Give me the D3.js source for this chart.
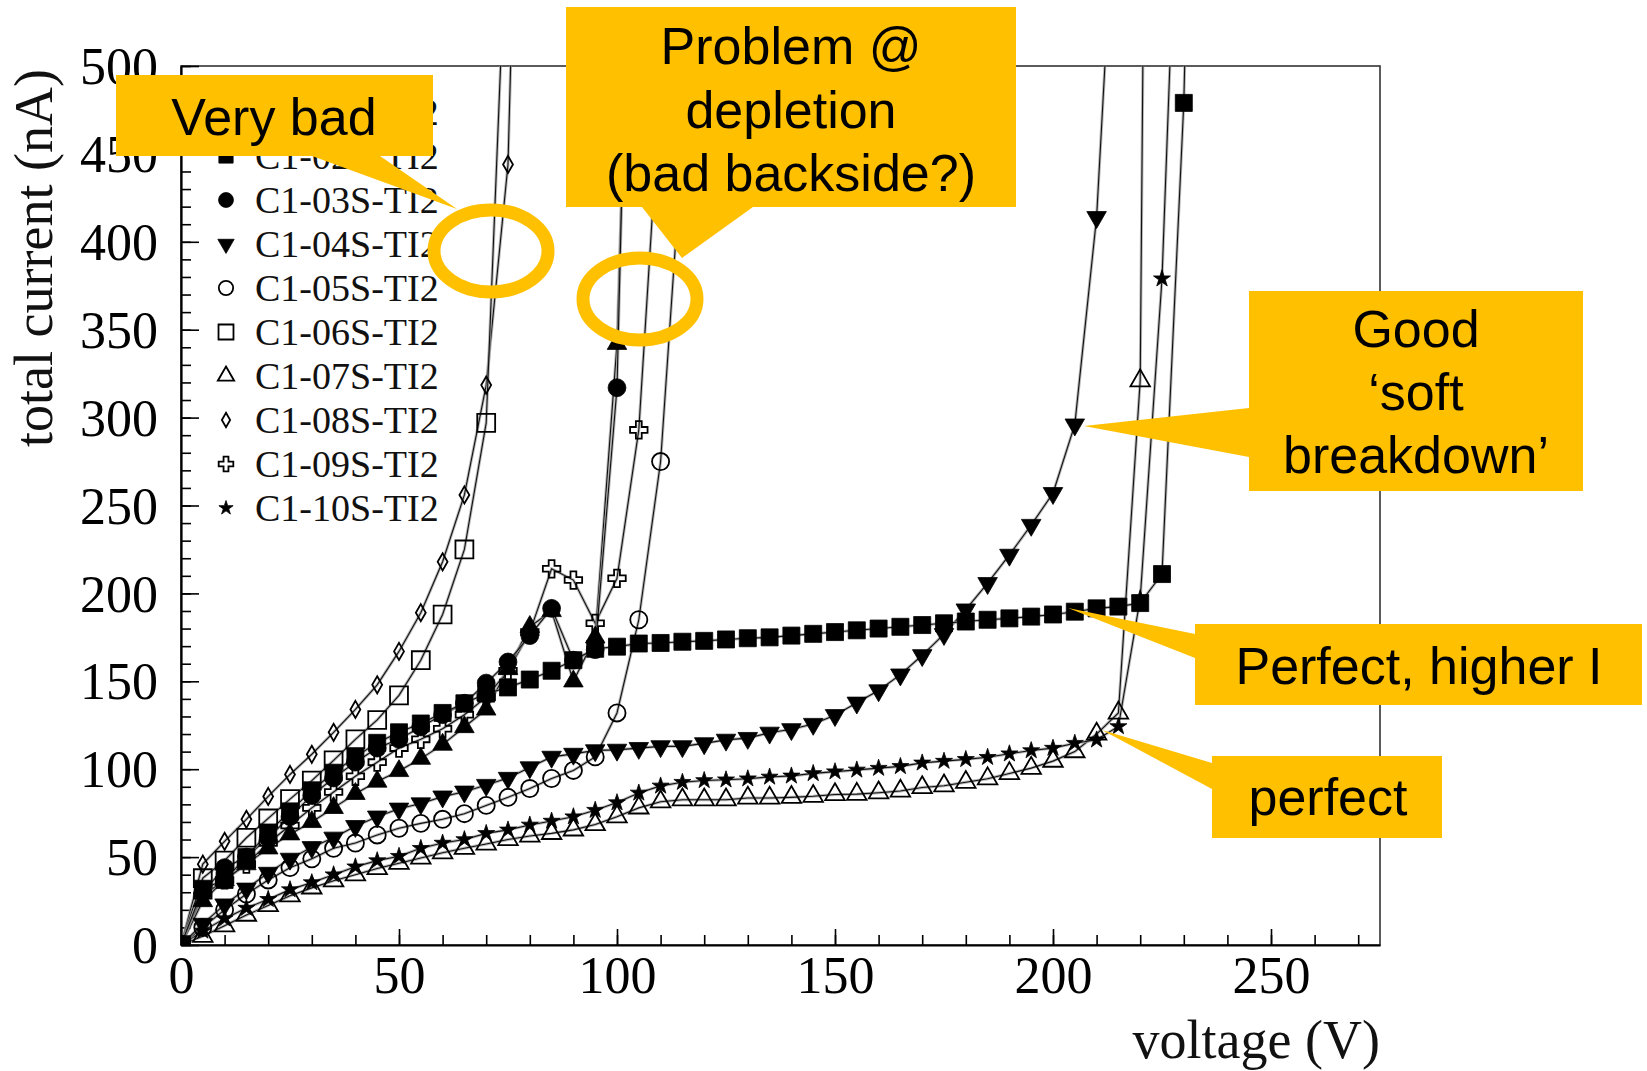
<!DOCTYPE html>
<html>
<head>
<meta charset="utf-8">
<script src="https://cdn.jsdelivr.net/npm/d3@7"></script>
<style>
body { margin: 0; background: #fff; }
svg { display: block; }
</style>
</head>
<body>
<script>
// bias voltage steps (V)
var voltage = [0,5,10,15,20,25,30,35,40,45,50,55,60,65,70,75,80,85,90,95,100,105,110,115,120,
  125,130,135,140,145,150,155,160,165,170,175,180,185,190,195,200,205,210,215,220,225,230,235];

var names = ["C1-01S-TI2","C1-02S-TI2","C1-03S-TI2","C1-04S-TI2","C1-05S-TI2",
  "C1-06S-TI2","C1-07S-TI2","C1-08S-TI2","C1-09S-TI2","C1-10S-TI2"];

// total current (nA), one entry per voltage step
var c01 = [0,25,37,46,55,63,70,78,86,93,99,106,114,124,134,157,181,190,150,175,342,750];
var c02 = [0,32,37,50,64,76,88,98,107,115,121,126,132,137.5,143,146.5,151,156,162,168.5,169.7,171.5,
  171.8,172.5,173,173.8,174.5,175,176,177,178,179,180,181,182,183,184,185,185.8,186.8,188,189.6,
  191.5,192.5,194.5,211,479,1000];
var c03 = [0,30,44,50,61,73,85,95,104,112,117,124,131,137.5,149,161,176,191.5,162,168,317,820];
var c04 = [0,12,23,32,41,49,55.6,61,67.6,73,77.5,80.5,84.4,87.2,91,95,101,107,108.7,110.7,111,112,113,
  113,114.7,116.7,117.7,120.7,122.7,125.7,130.7,137.8,144.8,153.8,164.8,176.8,190.8,205.8,221.9,
  238.9,257,296,414,640];
var c05 = [0,10,20,29,37,44,49,55,58,62.6,66.4,69.2,71.5,74.7,79.4,84,89,94.7,99.3,107,132,185,275,456,1000];
var c06 = [0,38,48,61,72,83,93.5,105,117,128,142,162,188,225,297,605];
var c07 = [0,5,11,17,22.5,28,32.5,36.5,40,43.5,46.5,49.5,52.5,55,57.5,60,62,63.5,65.5,68.5,73,78,81.5,
  82.6,82.6,82.6,83.6,83.6,84,84.6,85.6,85.8,86.6,87.6,89.6,90.6,92.6,94.6,97.6,100.6,104.6,110,120,
  132,321,1800];
var c08 = [0,46,59,71.5,84.5,97,108.5,121,134,148,167,189,218,256,318.5,444,910];
var c09 = [0,28,37,46,58,68,78,87,96,104,112,117,123,131,141,156,178,214,207.6,183,208.6,293,490,1200];
var c10 = [0,8,15,21,26,31.5,35.5,40,44.5,48,50.5,55,58,60,63.5,65.5,68.3,70.5,73,76.7,81,86.5,90.5,
  92.6,93.6,94,94.6,95.6,96.2,97.6,98.6,99.6,100.6,101.6,103.6,104.6,105.6,106.8,108.8,110.6,112,
  114.8,116.7,124.3,197,379,715];

var currents = [c01, c02, c03, c04, c05, c06, c07, c08, c09, c10];

var xTicks = [0,50,100,150,200,250];
var yTicks = [0,50,100,150,200,250,300,350,400,450,500];

// marker look per series
var markers = [
  { sym: d3.symbolTriangle, size: 165, fill: true,  rot: 0 },
  { sym: d3.symbolSquare,   size: 290, fill: true,  rot: 0 },
  { sym: d3.symbolCircle,   size: 250, fill: true,  rot: 0 },
  { sym: d3.symbolTriangle, size: 165, fill: true,  rot: 180 },
  { sym: d3.symbolCircle,   size: 230, fill: false, rot: 0 },
  { sym: d3.symbolSquare,   size: 320, fill: false, rot: 0 },
  { sym: d3.symbolTriangle, size: 165, fill: false, rot: 0 },
  { sym: d3.symbolDiamond,  size: 85,  fill: false, rot: 0 },
  { sym: d3.symbolCross,    size: 170, fill: false, rot: 0 },
  { sym: d3.symbolStar,     size: 90,  fill: true,  rot: 0 }
];
var drawOrder = [6, 9, 4, 3, 7, 5, 8, 0, 2, 1];

var callouts = [
  { box: [116, 75, 433, 156], tail: [[312,156],[380,156],[457,209]],
    lines: ["Very bad"], cx: 274, y0: 135, dy: 0 },
  { box: [566, 7, 1016, 207], tail: [[642,207],[753,207],[682,258]],
    lines: ["Problem @", "depletion", "(bad backside?)"], cx: 791, y0: 64, dy: 63.5 },
  { box: [1249, 291, 1583, 491], tail: [[1249,408],[1249,457],[1084,426]],
    lines: ["Good", "\u2018soft", "breakdown\u2019"], cx: 1416, y0: 347, dy: 63 },
  { box: [1195, 624, 1642, 705], tail: [[1195,634],[1195,658],[1068,608]],
    lines: ["Perfect, higher I"], cx: 1419, y0: 684, dy: 0 },
  { box: [1212, 756, 1442, 838], tail: [[1212,763],[1212,789],[1102,730]],
    lines: ["perfect"], cx: 1328, y0: 815, dy: 0 }
];
var rings = [[491, 251], [640, 299]];

var orange = "#FFC000";
var serif = "'Liberation Serif', 'Times New Roman', serif";
var sans = "'Liberation Sans', Arial, Helvetica, sans-serif";

var svg = d3.select("body").append("svg")
  .attr("width", 1647)
  .attr("height", 1071);

var x = d3.scaleLinear().domain([0, 275]).range([181, 1380]);
var y = d3.scaleLinear().domain([0, 500]).range([945, 66]);

svg.append("clipPath").attr("id", "plot-clip")
  .append("rect")
  .attr("x", x(0)).attr("y", y(500))
  .attr("width", x(275) - x(0)).attr("height", y(0) - y(500));

// frame
svg.append("rect")
  .attr("x", x(0)).attr("y", y(500))
  .attr("width", x(275) - x(0)).attr("height", y(0) - y(500))
  .attr("fill", "none").attr("stroke", "#333").attr("stroke-width", 1.6);

// minor ticks
svg.append("g")
  .attr("transform", "translate(0," + y(0) + ")")
  .call(d3.axisBottom(x).tickValues(d3.range(0, 275, 10)).tickSizeInner(-10).tickSizeOuter(0).tickFormat(""))
  .call(function(g) { g.select(".domain").remove(); });
svg.append("g")
  .attr("transform", "translate(" + x(0) + ",0)")
  .call(d3.axisLeft(y).tickValues(d3.range(0, 501, 10)).tickSizeInner(-10).tickSizeOuter(0).tickFormat(""))
  .call(function(g) { g.select(".domain").remove(); });

// major ticks with labels
var xAxis = svg.append("g")
  .attr("transform", "translate(0," + y(0) + ")")
  .call(d3.axisBottom(x).tickValues(xTicks).tickSizeInner(-16).tickSizeOuter(0).tickPadding(11));
var yAxis = svg.append("g")
  .attr("transform", "translate(" + x(0) + ",0)")
  .call(d3.axisLeft(y).tickValues(yTicks).tickSizeInner(-18).tickSizeOuter(0).tickPadding(23));

[xAxis, yAxis].forEach(function(g) {
  g.select(".domain").attr("stroke", "#000").attr("stroke-width", 2.2);
  g.selectAll(".tick text")
    .attr("font-family", serif)
    .attr("font-size", 52)
    .attr("fill", "#000");
});
yAxis.selectAll(".tick text").attr("dy", "0.34em");
svg.selectAll("g.tick line").attr("stroke", "#000").attr("stroke-width", 1.6);

// axis titles
svg.append("text")
  .attr("transform", "translate(52,258) rotate(-90)")
  .attr("text-anchor", "middle")
  .attr("font-family", serif)
  .attr("font-size", 54)
  .attr("fill", "#111")
  .text("total current (nA)");

svg.append("text")
  .attr("x", 1380).attr("y", 1058)
  .attr("text-anchor", "end")
  .attr("font-family", serif)
  .attr("font-size", 54)
  .attr("fill", "#111")
  .text("voltage (V)");

function pointsOf(i) {
  return currents[i].map(function(v, k) { return [voltage[k], v]; });
}

var line = d3.line()
  .x(function(d) { return x(d[0]); })
  .y(function(d) { return y(d[1]); });

var plot = svg.append("g").attr("clip-path", "url(#plot-clip)");

// curves
drawOrder.forEach(function(i) {
  var pts = pointsOf(i);
  plot.append("path").datum(pts)
    .attr("d", line).attr("fill", "none")
    .attr("stroke", "#9a9a9a").attr("stroke-width", 3).attr("stroke-opacity", 0.7);
  plot.append("path").datum(pts)
    .attr("d", line).attr("fill", "none")
    .attr("stroke", "#111").attr("stroke-width", 1.1);
});

function drawMarker(g, m, scale) {
  return g.append("path")
    .attr("d", d3.symbol().type(m.sym).size(m.size * scale)())
    .attr("fill", m.fill ? "#000" : "none")
    .attr("stroke", "#000")
    .attr("stroke-width", m.fill ? 0.8 : 1.8);
}

// markers
drawOrder.forEach(function(i) {
  var m = markers[i];
  pointsOf(i).filter(function(d) { return d[1] <= 500; }).forEach(function(d) {
    drawMarker(plot, m, 1)
      .attr("transform", "translate(" + x(d[0]) + "," + y(d[1]) + ") rotate(" + m.rot + ")");
  });
});

// legend
var legend = svg.append("g");
names.forEach(function(name, i) {
  var ly = 112 + 44 * i;
  drawMarker(legend, markers[i], 0.7)
    .attr("transform", "translate(226," + ly + ") rotate(" + markers[i].rot + ")");
  legend.append("text")
    .attr("x", 255).attr("y", ly + 13)
    .attr("font-family", serif)
    .attr("font-size", 38)
    .attr("fill", "#111")
    .text(name);
});

// yellow callouts
var notes = svg.append("g");
callouts.forEach(function(c) {
  notes.append("rect")
    .attr("x", c.box[0]).attr("y", c.box[1])
    .attr("width", c.box[2] - c.box[0]).attr("height", c.box[3] - c.box[1])
    .attr("fill", orange);
  notes.append("polygon")
    .attr("points", c.tail.map(function(p) { return p.join(","); }).join(" "))
    .attr("fill", orange);
  c.lines.forEach(function(t, k) {
    notes.append("text")
      .attr("x", c.cx).attr("y", c.y0 + k * c.dy)
      .attr("text-anchor", "middle")
      .attr("font-family", sans)
      .attr("font-size", 52)
      .attr("fill", "#000")
      .text(t);
  });
});

rings.forEach(function(r) {
  notes.append("ellipse")
    .attr("cx", r[0]).attr("cy", r[1])
    .attr("rx", 57).attr("ry", 41)
    .attr("fill", "none")
    .attr("stroke", orange)
    .attr("stroke-width", 13);
});
</script>
</body>
</html>
